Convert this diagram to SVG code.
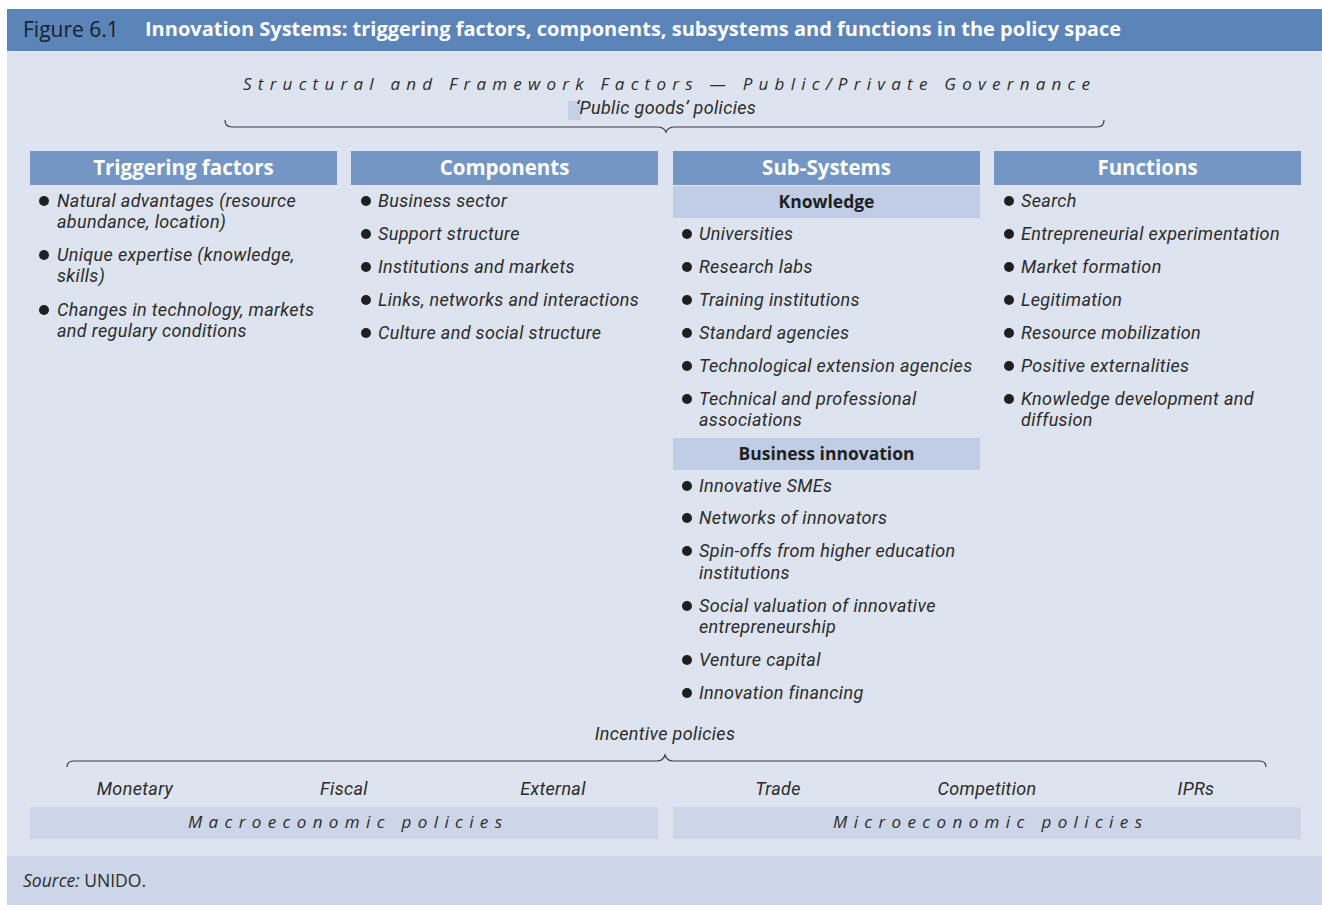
<svg xmlns="http://www.w3.org/2000/svg" width="1322" height="910" viewBox="0 0 1322 910">
<style>
text{font-family:"Open Sans","Noto Sans","Liberation Sans",sans-serif;fill:#2b2b2b}
.it{font-family:Roboto,"Liberation Sans",sans-serif;font-style:italic;font-size:18px;letter-spacing:0.35px}
.hd{font-weight:bold;font-size:20.5px;fill:#ffffff;text-anchor:middle}
.sh{font-weight:bold;font-size:17.5px;fill:#1f1f1f;text-anchor:middle}
.colh{fill:#7396c4}
.subh{fill:#c0cde4}
.pol{fill:#cdd6e8}
.b{fill:#1f1f1f}
.brace{fill:none;stroke:#3a3a3a;stroke-width:1.2}
.mid{text-anchor:middle}
.sp{font-style:italic;font-size:17px}
</style>
<rect x="0" y="0" width="1322" height="910" fill="#ffffff"/>
<rect x="7" y="51" width="1315" height="805" fill="#dde3ef"/>
<rect x="7" y="856" width="1315" height="49" fill="#cdd6e8"/>
<g id="header">
<rect x="7" y="9" width="1315" height="42" fill="#5b84b8"/>
<text x="23" y="37" font-size="21" style="fill:#17202e">Figure 6.1</text>
<text x="145" y="36" font-size="19" font-weight="bold" style="fill:#ffffff" textLength="976" lengthAdjust="spacingAndGlyphs">Innovation Systems: triggering factors, components, subsystems and functions in the policy space</text>
</g>
<g id="framework">
<text class="sp" x="243" y="90" textLength="847" lengthAdjust="spacing">Structural and Framework Factors — Public/Private Governance</text>
<rect x="568" y="101" width="13" height="19" fill="#c5d0e6"/>
<text class="it mid" x="666" y="114">‘Public goods’ policies</text>
</g>
<g id="connectors">
<path class="brace" d="M225,120 Q225,127 232,127 L657,127 Q664,127 666,132 Q668,127 675,127 L1097,127 Q1104,127 1104,120"/>
<path class="brace" d="M67,767 Q67,761 74,761 L657,761 Q663,761 665,755 Q667,761 673,761 L1259,761 Q1266,761 1266,767"/>
</g>
<g id="triggering">
<rect class="colh" x="30" y="151" width="307" height="34"/>
<text class="hd" x="183.5" y="175">Triggering factors</text>
<circle class="b" cx="44" cy="201" r="5"/>
<text class="it" x="57" y="207">Natural advantages (resource</text>
<text class="it" x="57" y="228">abundance, location)</text>
<circle class="b" cx="44" cy="255" r="5"/>
<text class="it" x="57" y="261">Unique expertise (knowledge,</text>
<text class="it" x="57" y="282">skills)</text>
<circle class="b" cx="44" cy="310" r="5"/>
<text class="it" x="57" y="316">Changes in technology, markets</text>
<text class="it" x="57" y="337">and regulary conditions</text>
</g>
<g id="components">
<rect class="colh" x="351" y="151" width="307" height="34"/>
<text class="hd" x="504.5" y="175">Components</text>
<circle class="b" cx="366" cy="201" r="5"/>
<text class="it" x="378" y="207">Business sector</text>
<circle class="b" cx="366" cy="234" r="5"/>
<text class="it" x="378" y="240">Support structure</text>
<circle class="b" cx="366" cy="267" r="5"/>
<text class="it" x="378" y="273">Institutions and markets</text>
<circle class="b" cx="366" cy="300" r="5"/>
<text class="it" x="378" y="306">Links, networks and interactions</text>
<circle class="b" cx="366" cy="333" r="5"/>
<text class="it" x="378" y="339">Culture and social structure</text>
</g>
<g id="subsystems">
<rect class="colh" x="673" y="151" width="307" height="34"/>
<text class="hd" x="826.5" y="175">Sub-Systems</text>
<rect class="subh" x="673" y="186" width="307" height="32"/>
<text class="sh" x="826.5" y="208">Knowledge</text>
<circle class="b" cx="687" cy="234" r="5"/>
<text class="it" x="699" y="240">Universities</text>
<circle class="b" cx="687" cy="267" r="5"/>
<text class="it" x="699" y="273">Research labs</text>
<circle class="b" cx="687" cy="300" r="5"/>
<text class="it" x="699" y="306">Training institutions</text>
<circle class="b" cx="687" cy="333" r="5"/>
<text class="it" x="699" y="339">Standard agencies</text>
<circle class="b" cx="687" cy="366" r="5"/>
<text class="it" x="699" y="372">Technological extension agencies</text>
<circle class="b" cx="687" cy="399" r="5"/>
<text class="it" x="699" y="405">Technical and professional</text>
<text class="it" x="699" y="426">associations</text>
<rect class="subh" x="673" y="438" width="307" height="32"/>
<text class="sh" x="826.5" y="460">Business innovation</text>
<circle class="b" cx="687" cy="486" r="5"/>
<text class="it" x="699" y="492">Innovative SMEs</text>
<circle class="b" cx="687" cy="518" r="5"/>
<text class="it" x="699" y="524">Networks of innovators</text>
<circle class="b" cx="687" cy="551" r="5"/>
<text class="it" x="699" y="557">Spin-offs from higher education</text>
<text class="it" x="699" y="579">institutions</text>
<circle class="b" cx="687" cy="606" r="5"/>
<text class="it" x="699" y="612">Social valuation of innovative</text>
<text class="it" x="699" y="633">entrepreneurship</text>
<circle class="b" cx="687" cy="660" r="5"/>
<text class="it" x="699" y="666">Venture capital</text>
<circle class="b" cx="687" cy="693" r="5"/>
<text class="it" x="699" y="699">Innovation financing</text>
</g>
<g id="functions">
<rect class="colh" x="994" y="151" width="307" height="34"/>
<text class="hd" x="1147.5" y="175">Functions</text>
<circle class="b" cx="1009" cy="201" r="5"/>
<text class="it" x="1021" y="207">Search</text>
<circle class="b" cx="1009" cy="234" r="5"/>
<text class="it" x="1021" y="240">Entrepreneurial experimentation</text>
<circle class="b" cx="1009" cy="267" r="5"/>
<text class="it" x="1021" y="273">Market formation</text>
<circle class="b" cx="1009" cy="300" r="5"/>
<text class="it" x="1021" y="306">Legitimation</text>
<circle class="b" cx="1009" cy="333" r="5"/>
<text class="it" x="1021" y="339">Resource mobilization</text>
<circle class="b" cx="1009" cy="366" r="5"/>
<text class="it" x="1021" y="372">Positive externalities</text>
<circle class="b" cx="1009" cy="399" r="5"/>
<text class="it" x="1021" y="405">Knowledge development and</text>
<text class="it" x="1021" y="426">diffusion</text>
</g>
<g id="incentive">
<text class="it mid" x="665" y="740">Incentive policies</text>
<text class="it mid" x="135" y="795">Monetary</text>
<text class="it mid" x="344" y="795">Fiscal</text>
<text class="it mid" x="553" y="795">External</text>
<text class="it mid" x="778" y="795">Trade</text>
<text class="it mid" x="987" y="795">Competition</text>
<text class="it mid" x="1196" y="795">IPRs</text>
</g>
<g id="macro">
<rect class="pol" x="30" y="807" width="628" height="32"/>
<text class="sp" x="188" y="828" textLength="314" lengthAdjust="spacing">Macroeconomic policies</text>
</g>
<g id="micro">
<rect class="pol" x="673" y="807" width="628" height="32"/>
<text class="sp" x="833" y="828" textLength="309" lengthAdjust="spacing">Microeconomic policies</text>
</g>
<g id="source">
<text x="23" y="887" font-size="17.5"><tspan font-style="italic">Source:</tspan>  UNIDO.</text>
</g>
</svg>
